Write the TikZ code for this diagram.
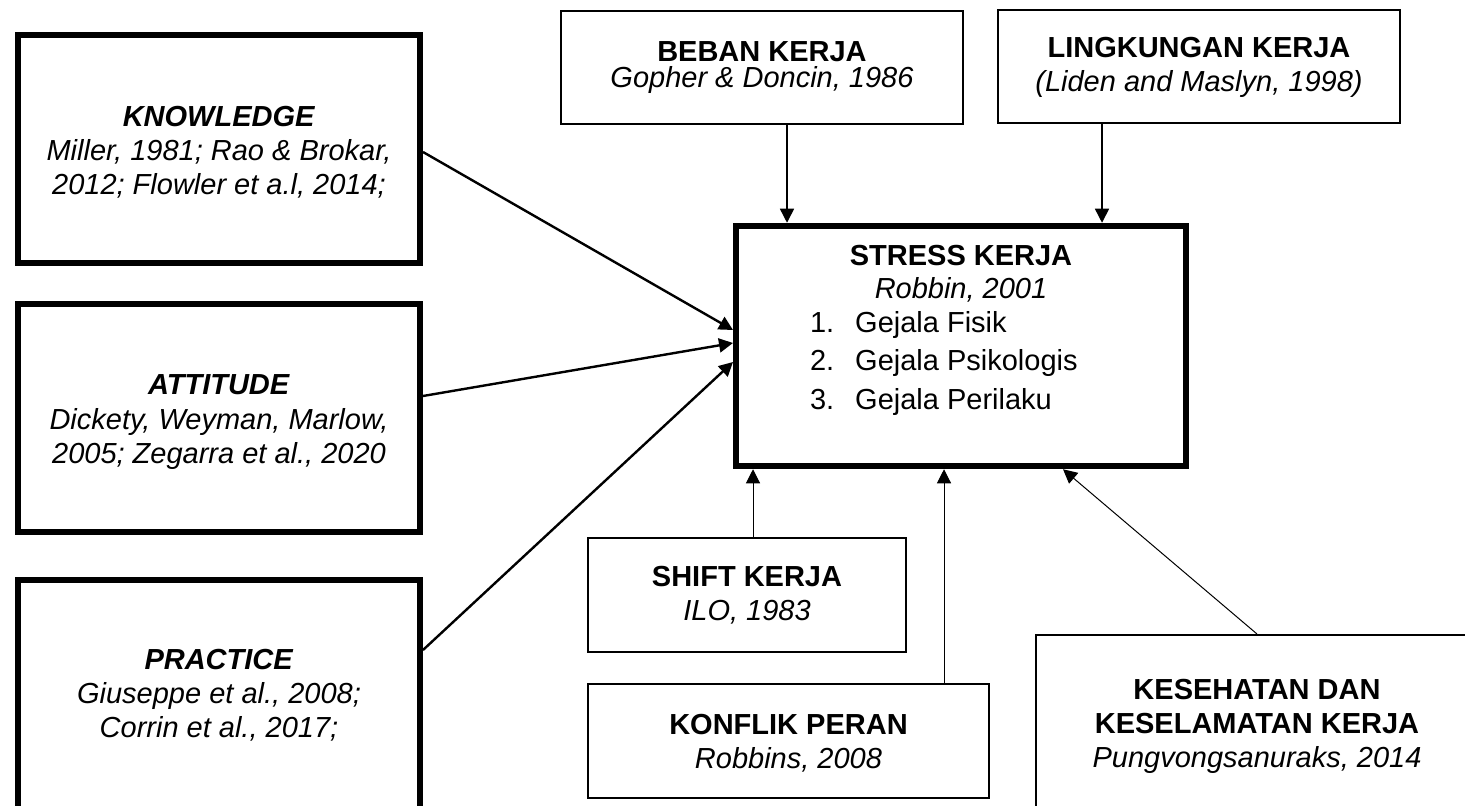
\documentclass[tikz,border=0pt]{standalone}
\usepackage{fontspec}
\setmainfont{Liberation Sans}
\usetikzlibrary{arrows.meta}
\newcommand{\gejala}[2]{\makebox[151pt][l]{#1.\hspace{10.5pt}#2}}
\tikzset{
  box/.style={draw,line width=#1,minimum width=201pt,minimum height=56.5pt,inner sep=0pt,align=center,font=\fontsize{14.5}{17}\selectfont},
  box/.default={1pt},
  thickbox/.style={box=3pt,minimum height=114pt},
  arr/.style={-{Triangle[length=7pt,width=7pt]},line width=#1},
  arr/.default={0.5pt},
}
\begin{document}
\begin{tikzpicture}[x=0.5pt,y=-0.5pt]
 \useasboundingbox (0,0) rectangle (1465,806);
 \fill[white] (0,0) rectangle (1465,806);
 \clip (0,0) rectangle (1465,806);
 % left column
 \node[thickbox] (know) at (219,149) {\rule{0pt}{13pt}\textbf{\textit{KNOWLEDGE}}\\\textit{Miller, 1981; Rao \& Brokar,}\\\textit{2012; Flowler et a.l, 2014;}};
 \node[thickbox,minimum height=113.75pt] (att) at (219,418) {\rule{0pt}{14pt}\textbf{\textit{ATTITUDE}}\\[0.8pt]\textit{Dickety, Weyman, Marlow,}\\\textit{2005; Zegarra et al., 2020}};
 \node[thickbox,minimum height=115pt] (prac) at (219,695) {\textbf{\textit{PRACTICE}}\\\textit{Giuseppe et al., 2008;}\\\textit{Corrin et al., 2017;}};
 % top row
 \node[box] (beban) at (762,67.5) {\textbf{BEBAN KERJA}\\[-4pt]\textit{Gopher \& Doncin, 1986}};
 \node[box] (ling) at (1199,67) {\textbf{LINGKUNGAN KERJA}\\\textit{(Liden and Maslyn, 1998)}};
 % centre
 \node[thickbox,minimum width=225pt,minimum height=120.25pt] (stress) at (961,346) {\textbf{STRESS KERJA}\\[-0.5pt]\textit{Robbin, 2001}\\\gejala{1}{Gejala Fisik}\\[2.2pt]\gejala{2}{Gejala Psikologis}\\[2.2pt]\gejala{3}{Gejala Perilaku}\\[2pt]};
 % bottom row
 \node[box,minimum width=159pt,minimum height=57pt] (shift) at (747,595) {\textbf{SHIFT KERJA}\\\textit{ILO, 1983}};
 \node[box,minimum width=200.5pt,minimum height=57pt] (konflik) at (788.5,741) {\rule{0pt}{12.5pt}\textbf{KONFLIK PERAN}\\\textit{Robbins, 2008}};
 \node[box,minimum width=221pt,minimum height=91pt] (kes) at (1257,726) {\textbf{KESEHATAN DAN}\\\textbf{KESELAMATAN KERJA}\\\textit{Pungvongsanuraks, 2014}};
 % connectors
 \draw[arr=1.2pt] ([yshift=-1.5pt]know.east) -- ([yshift=8pt]stress.west);
 \draw[arr=1.2pt] ([yshift=11pt]att.east) -- ([yshift=1.5pt]stress.west);
 \draw[arr=1.2pt] ([yshift=22.5pt]prac.east) -- ([yshift=-8pt]stress.west);
 \draw[arr=0.75pt] ([xshift=12.5pt]beban.south) -- ([xshift=12.5pt]beban.south |- stress.north);
 \draw[arr=0.75pt] ([xshift=-48.5pt]ling.south) -- ([xshift=-48.5pt]ling.south |- stress.north);
 \draw[arr] ([xshift=3pt]shift.north) -- ([xshift=3pt]shift.north |- stress.south);
 \draw[arr] ([xshift=77.75pt]konflik.north) -- ([xshift=77.75pt]konflik.north |- stress.south);
 \draw[arr] (kes.north) -- ([xshift=51pt]stress.south);
\end{tikzpicture}
\end{document}
